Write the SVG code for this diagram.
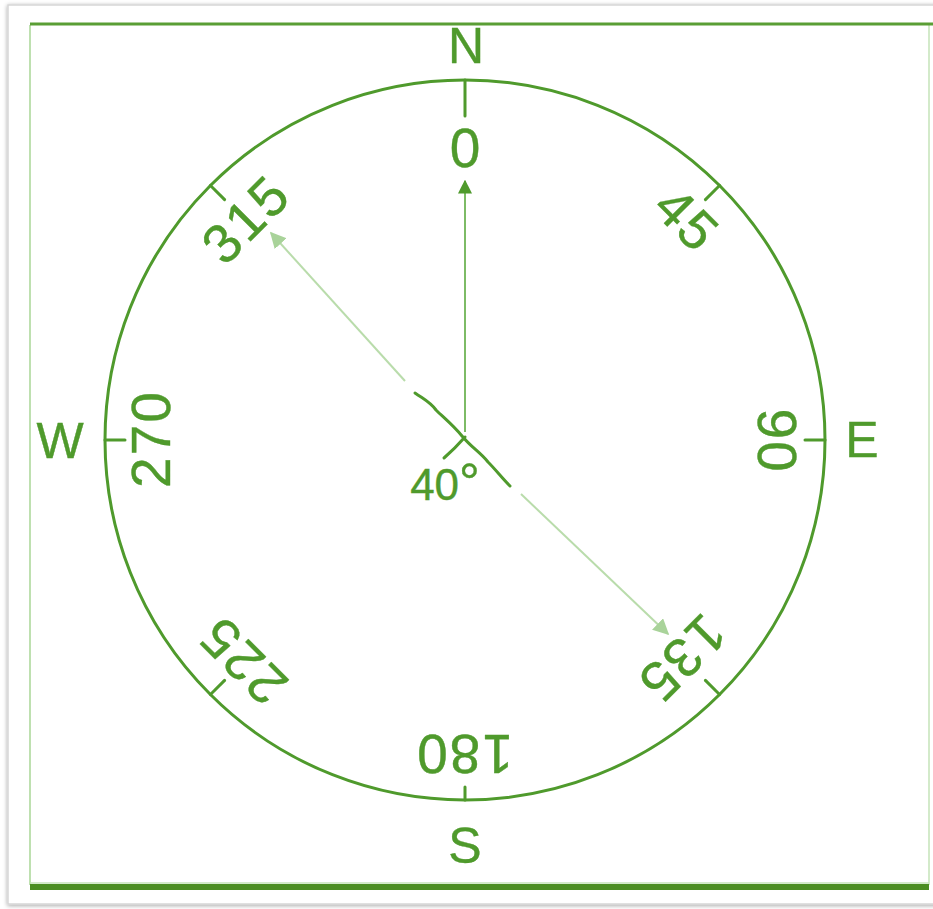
<svg xmlns="http://www.w3.org/2000/svg" width="933" height="909" viewBox="0 0 933 909">
  <defs>
    <style>
      .lbl { font-family: "Liberation Sans", Arial, sans-serif; fill: #4f9a2c; text-anchor: middle; stroke: #4f9a2c; stroke-width: 0.4; }
      .dir { font-size: 50px; }
      .deg { font-size: 55px; letter-spacing: 2px; }
      .stroke { stroke: #4f9a2c; fill: none; stroke-width: 3; stroke-linecap: round; }
      .light { stroke: #b9dcab; stroke-width: 2; fill: none; }
    </style>
    <marker id="ahDark" viewBox="0 0 10 10" refX="9" refY="5" markerWidth="14" markerHeight="14" markerUnits="userSpaceOnUse" orient="auto">
      <path d="M0,0 L10,5 L0,10 Z" fill="#4f9a2c"/>
    </marker>
    <marker id="ahLight" viewBox="0 0 10 10" refX="9" refY="5" markerWidth="16" markerHeight="16" markerUnits="userSpaceOnUse" orient="auto">
      <path d="M0,0 L10,5 L0,10 Z" fill="#a9d39a"/>
    </marker>
    <filter id="shadow" x="-5%" y="-5%" width="110%" height="110%">
      <feDropShadow dx="0" dy="1" stdDeviation="2" flood-color="#000" flood-opacity="0.35"/>
    </filter>
  </defs>

  <rect x="0" y="0" width="933" height="909" fill="#ffffff"/>
  <rect x="8" y="5" width="935" height="899" fill="#ffffff" stroke="#d6d6d6" stroke-width="1.5" filter="url(#shadow)"/>

  <g id="frame">
    <line x1="30" y1="25" x2="30" y2="885" stroke="#a8d696" stroke-width="1.5"/>
    <line x1="929" y1="25" x2="929" y2="885" stroke="#c4e3b8" stroke-width="1.5"/>
    <line x1="30" y1="24" x2="933" y2="24" stroke="#5a9e35" stroke-width="3"/>
    <line x1="30" y1="883" x2="929" y2="883" stroke="#c4e3b8" stroke-width="1.5"/>
    <line x1="30" y1="887" x2="929" y2="887" stroke="#4b8e22" stroke-width="6"/>
  </g>

  <g id="compass-circle">
    <circle cx="465" cy="440" r="360" class="stroke" stroke-width="3.5"/>
  </g>

  <g id="ticks" class="stroke">
    <line x1="465" y1="80" x2="465" y2="116"/>
    <line x1="465" y1="80" x2="465" y2="100" transform="rotate(45 465 440)"/>
    <line x1="465" y1="80" x2="465" y2="100" transform="rotate(90 465 440)"/>
    <line x1="465" y1="80" x2="465" y2="100" transform="rotate(135 465 440)"/>
    <line x1="465" y1="80" x2="465" y2="93" transform="rotate(180 465 440)"/>
    <line x1="465" y1="80" x2="465" y2="100" transform="rotate(225 465 440)"/>
    <line x1="465" y1="80" x2="465" y2="100" transform="rotate(270 465 440)"/>
    <line x1="465" y1="80" x2="465" y2="100" transform="rotate(315 465 440)"/>
  </g>

  <g id="cardinals">
    <text id="N" class="lbl dir" x="466" y="63">N</text>
    <text id="E" class="lbl dir" x="862" y="457">E</text>
    <text id="S" class="lbl dir" x="465" y="863">S</text>
    <text id="W" class="lbl dir" x="60" y="458">W</text>
  </g>

  <g id="degrees">
    <text id="d0" class="lbl deg" x="466" y="167">0</text>
    <text id="d45" class="lbl deg" x="466" y="146" transform="rotate(45 465 440)">45</text>
    <text id="d90" class="lbl deg" x="466" y="147" transform="rotate(90 465 440)">90</text>
    <text id="d135" class="lbl deg" x="466" y="151" transform="rotate(135 465 440)">135</text>
    <text id="d180" class="lbl deg" x="466" y="145" transform="rotate(180 465 440)">180</text>
    <text id="d225" class="lbl deg" x="466" y="146" transform="rotate(225 465 440)">225</text>
    <text id="d270" class="lbl deg" x="466" y="145" transform="rotate(270 465 440)">270</text>
    <text id="d315" class="lbl deg" x="466" y="148" transform="rotate(315 465 440)">315</text>
  </g>

  <g id="connectors">
    <line x1="465" y1="432" x2="465" y2="181" stroke="#7dbb66" stroke-width="2" marker-end="url(#ahDark)"/>
    <line x1="405" y1="381" x2="271" y2="233" class="light" marker-end="url(#ahLight)"/>
    <line x1="521" y1="494" x2="668" y2="634" class="light" marker-end="url(#ahLight)"/>
    <path d="M415,393 C425,400 430,402 436,410 C444,418 452,424 462,436 C472,448 480,452 488,462 C496,470 502,478 510,486" class="stroke" stroke-width="2.5"/>
    <path d="M465,437 C458,445 452,451 444,458" class="stroke" stroke-width="2.5"/>
  </g>

  <g id="angle-label">
    <text class="lbl" x="445" y="500" font-size="44">40<tspan font-size="52">°</tspan></text>
  </g>
</svg>
